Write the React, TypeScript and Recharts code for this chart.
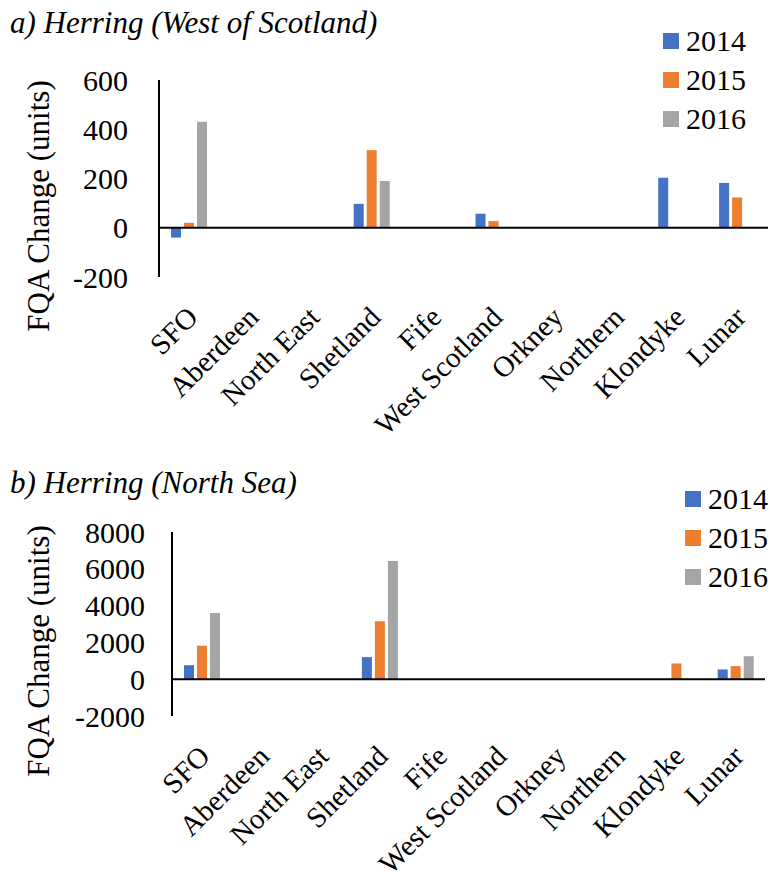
import React from 'react';
import { BarChart, Bar, XAxis, YAxis, ReferenceLine, Legend } from 'recharts';

const categories = ['SFO', 'Aberdeen', 'North East', 'Shetland', 'Fife', 'West Scotland', 'Orkney', 'Northern', 'Klondyke', 'Lunar'];
const years = ['2014', '2015', '2016'];

// a) West of Scotland herring, FQA change per producer organisation
const westScotland2014 = [-40, 0, 0, 97, 0, 57, 0, 0, 203, 182];
const westScotland2015 = [20, 0, 0, 315, 0, 27, 0, 0, 0, 123];
const westScotland2016 = [430, 0, 0, 190, 0, 0, 0, 0, 0, 0];
const westScotlandTicks = [-200, 0, 200, 400, 600];

// b) North Sea herring
const northSea2014 = [760, 0, 0, 1200, 0, 0, 0, 0, 0, 530];
const northSea2015 = [1820, 0, 0, 3150, 0, 0, 0, 0, 855, 710];
const northSea2016 = [3600, 0, 0, 6430, 0, 0, 0, 0, 0, 1250];
const northSeaTicks = [-2000, 0, 2000, 4000, 6000, 8000];

const COLORS = ['#4472C4', '#ED7D31', '#A5A5A5'];
const FONT = "'Liberation Serif', 'DejaVu Serif', serif";

const buildRows = (s2014: number[], s2015: number[], s2016: number[]) =>
  categories.map((name, i) => ({ name, y2014: s2014[i], y2015: s2015[i], y2016: s2016[i] }));

const CategoryTick = (props: any) => {
  const { x, y, payload } = props;
  return (
    <g transform={`translate(${x + 10},${y + 40})`}>
      <text textAnchor="end" transform="rotate(-45)" fontFamily={FONT} fontSize={29} fill="#000">
        {payload.value}
      </text>
    </g>
  );
};

const YTitle = ({ cx, cy }: { cx: number; cy: number }) => (
  <text
    x={cx}
    y={cy}
    transform={`rotate(-90 ${cx} ${cy})`}
    textAnchor="middle"
    dominantBaseline="central"
    fontFamily={FONT}
    fontSize={31}
    fill="#000"
  >
    FQA Change (units)
  </text>
);

const YearLegend = ({ left, top }: { left: number; top: number }) => (
  <div style={{ position: 'absolute', left, top }}>
    {years.map((year, i) => (
      <div key={year} style={{ display: 'flex', alignItems: 'center', height: 39 }}>
        <span style={{ width: 16, height: 16, background: COLORS[i], marginRight: 7 }} />
        <span style={{ fontFamily: FONT, fontSize: 30, lineHeight: '30px', color: '#000' }}>{year}</span>
      </div>
    ))}
  </div>
);

interface PanelProps {
  title: string;
  rows: ReturnType<typeof buildRows>;
  ticks: number[];
  top: number;
  height: number;
  plotTop: number;
  plotLeft: number;
  plotRight: number;
  plotBottom: number;
  tickGap: number;
  titleTop: number;
  labelY: number;
  legendLeft: number;
  legendTop: number;
}

const HerringPanel = (p: PanelProps) => (
  <div style={{ position: 'absolute', left: 0, top: p.top, width: 770, height: p.height }}>
    <div
      style={{
        position: 'absolute',
        left: 10,
        top: p.titleTop,
        fontFamily: FONT,
        fontStyle: 'italic',
        fontSize: 31,
        lineHeight: '31px',
        whiteSpace: 'nowrap',
        zIndex: 1,
      }}
    >
      {p.title}
    </div>
    <BarChart
      width={770}
      height={p.height}
      data={p.rows}
      barSize={10}
      barGap={3}
      margin={{ top: p.plotTop, right: 770 - p.plotRight, left: 0, bottom: 3 }}
    >
      <XAxis
        dataKey="name"
        axisLine={false}
        tickLine={false}
        tickSize={0}
        interval={0}
        height={p.height - p.plotBottom - 3}
        tick={<CategoryTick />}
      />
      <YAxis
        width={p.plotLeft}
        domain={[p.ticks[0], p.ticks[p.ticks.length - 1]]}
        ticks={p.ticks}
        interval={0}
        axisLine={{ stroke: '#000', strokeWidth: 2 }}
        tickLine={false}
        tickSize={0}
        tickMargin={p.tickGap}
        tick={{ fontFamily: FONT, fontSize: 30, fill: '#000' }}
        label={<YTitle cx={38} cy={p.labelY} />}
      />
      <Legend
        layout="horizontal"
        align="center"
        verticalAlign="middle"
        wrapperStyle={{ left: 0, top: 0, width: 770, height: 0 }}
        content={() => <YearLegend left={p.legendLeft} top={p.legendTop} />}
      />
      <Bar dataKey="y2014" name="2014" fill={COLORS[0]} isAnimationActive={false} />
      <Bar dataKey="y2015" name="2015" fill={COLORS[1]} isAnimationActive={false} />
      <Bar dataKey="y2016" name="2016" fill={COLORS[2]} isAnimationActive={false} />
      <ReferenceLine y={0} stroke="#000" strokeWidth={2} />
    </BarChart>
  </div>
);

export default function App() {
  return (
    <div style={{ position: 'absolute', left: 0, top: 0, width: 770, height: 879, background: '#fff' }}>
      <HerringPanel
        title="a) Herring (West of Scotland)"
        rows={buildRows(westScotland2014, westScotland2015, westScotland2016)}
        ticks={westScotlandTicks}
        top={0}
        height={440}
        plotTop={80}
        plotLeft={159}
        plotRight={768}
        plotBottom={277}
        tickGap={31}
        titleTop={7}
        labelY={206}
        legendLeft={663}
        legendTop={21}
      />
      <HerringPanel
        title="b) Herring (North Sea)"
        rows={buildRows(northSea2014, northSea2015, northSea2016)}
        ticks={northSeaTicks}
        top={440}
        height={439}
        plotTop={92}
        plotLeft={172}
        plotRight={765}
        plotBottom={276}
        tickGap={27}
        titleTop={27}
        labelY={211}
        legendLeft={685}
        legendTop={39}
      />
    </div>
  );
}
